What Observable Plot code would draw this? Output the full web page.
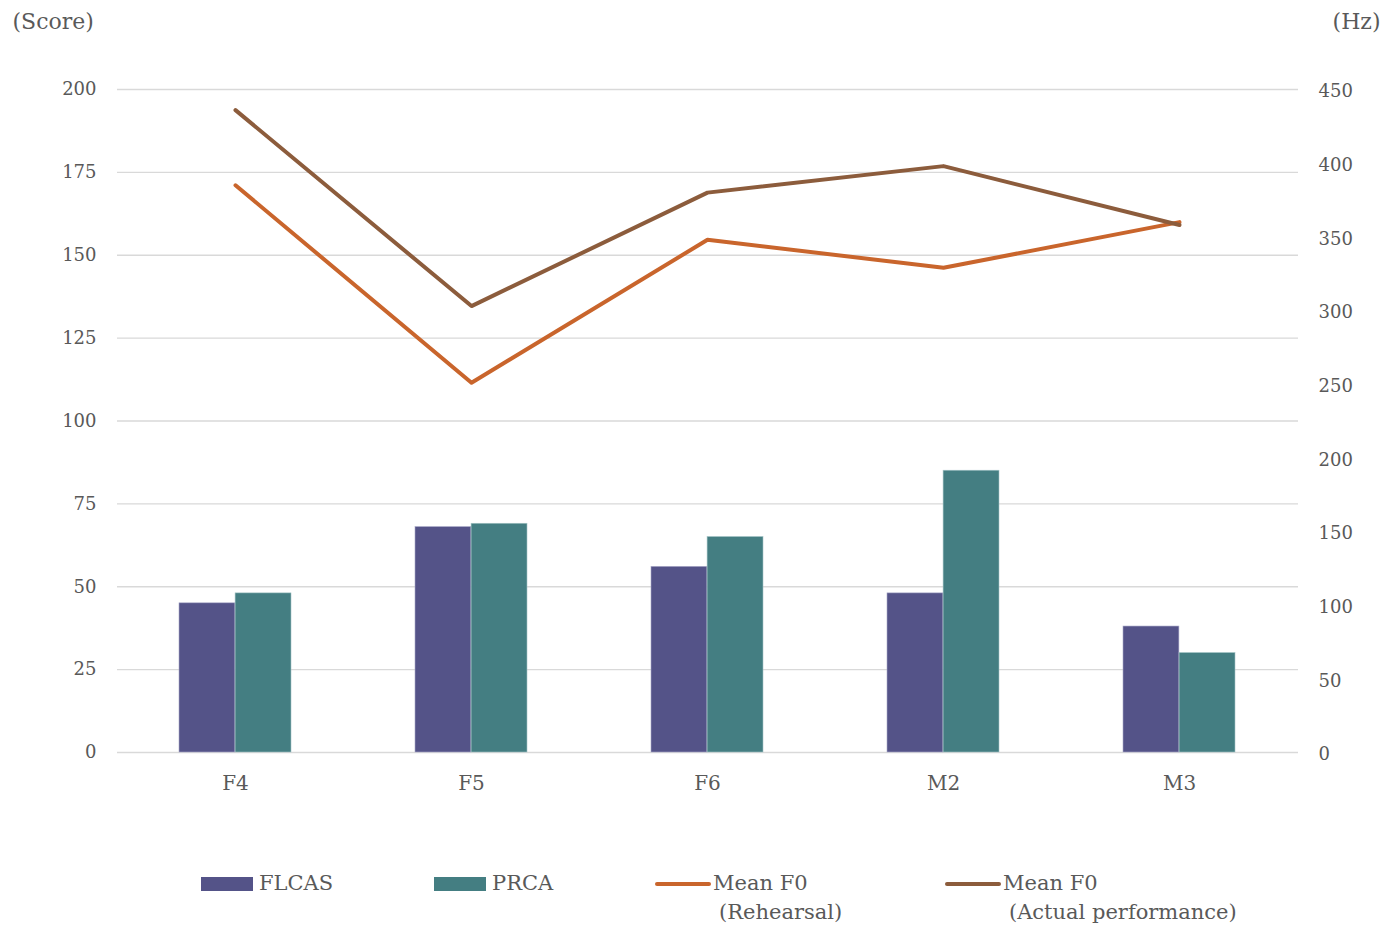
<!DOCTYPE html>
<html>
<head>
<meta charset="utf-8">
<script src="https://cdn.jsdelivr.net/npm/d3@7"></script>
<script src="https://cdn.jsdelivr.net/npm/@observablehq/plot@0.6"></script>
<style>
  body { margin: 0; background: #fff; font-family: "DejaVu Serif", serif; }
  #wrap { position: relative; width: 1387px; height: 929px; }
  #legend { position: absolute; left: 0; top: 869px; width: 1387px; height: 60px; color: #595959; font-size: 21px; }
  .item { position: absolute; top: 0; display: flex; align-items: flex-start; }
  .sw { display: inline-block; margin-right: 6px; }
  .lbl { line-height: 29px; }
</style>
</head>
<body>
<div id="wrap">
  <div id="chart"></div>
  <div id="legend"></div>
</div>
<script>
const categories = ["F4", "F5", "F6", "M2", "M3"];
const flcas = [45, 68, 56, 48, 38];
const prca = [48, 69, 65, 85, 30];
const f0Rehearsal = [385, 251, 348, 329, 360];
const f0Actual = [436, 303, 380, 398, 358];
const scoreTicks = [0, 25, 50, 75, 100, 125, 150, 175, 200];
const hzTicks = [0, 50, 100, 150, 200, 250, 300, 350, 400, 450];
const seriesNames = ["FLCAS", "PRCA", "Mean F0\n(Rehearsal)", "Mean F0\n(Actual performance)"];
const colors = ["#545388", "#447e82", "#c9652c", "#8c5c3c"];

const scoreMax = 200, hzMax = 450;
const hzToScore = h => h * scoreMax / hzMax;

const barData = categories.map((c, i) => ({cat: c, flcas: flcas[i], prca: prca[i]}));
const lineReh = categories.map((c, i) => ({cat: c, hz: f0Rehearsal[i]}));
const lineAct = categories.map((c, i) => ({cat: c, hz: f0Actual[i]}));

const W = 1387, H = 840, ML = 117, MR = 89, MT = 89, MB = 88;
const padInner = 0.525, padOuter = 0.2625;
const step = (W - ML - MR) / (categories.length - padInner + 2 * padOuter);
const bw = step * (1 - padInner);

const chart = Plot.plot({
  width: W, height: H,
  marginLeft: ML, marginRight: MR, marginTop: MT, marginBottom: MB,
  style: {fontFamily: "DejaVu Serif, serif", fontSize: "18px", color: "#595959", background: "white"},
  x: {domain: categories, paddingInner: padInner, paddingOuter: padOuter, label: null},
  y: {domain: [0, scoreMax], label: null},
  marks: [
    Plot.gridY(scoreTicks, {stroke: "#d9d9d9", strokeOpacity: 1, strokeWidth: 1.3}),
    Plot.barY(barData, {x: "cat", y: "flcas", fill: colors[0], insetRight: bw / 2, stroke: "#a9a9c8", strokeWidth: 0.6}),
    Plot.barY(barData, {x: "cat", y: "prca", fill: colors[1], insetLeft: bw / 2, stroke: "#a3c3c5", strokeWidth: 0.6}),
    Plot.line(lineReh, {x: "cat", y: d => hzToScore(d.hz), stroke: colors[2], strokeWidth: 4}),
    Plot.line(lineAct, {x: "cat", y: d => hzToScore(d.hz), stroke: colors[3], strokeWidth: 4}),
    Plot.axisY(scoreTicks, {anchor: "left", tickSize: 0, tickPadding: 21, label: null, fontSize: 18}),
    Plot.axisY(hzTicks.map(hzToScore), {anchor: "right", tickSize: 0, tickPadding: 20, label: null, fontSize: 18, dy: 2,
      tickFormat: d => String(Math.round(d * hzMax / scoreMax)), textAnchor: "start"}),
    Plot.axisX({tickSize: 0, tickPadding: 23, label: null, fontSize: 20}),
    Plot.text(["(Score)"], {frameAnchor: "top-left", dx: -105, dy: -76, textAnchor: "start", fontSize: 22, fill: "#595959"}),
    Plot.text(["(Hz)"], {frameAnchor: "top-right", dx: 82, dy: -76, textAnchor: "end", fontSize: 22, fill: "#595959"})
  ]
});
document.getElementById("chart").appendChild(chart);

const legendLefts = [201, 434, 655, 945];
const legend = document.getElementById("legend");
seriesNames.forEach((name, i) => {
  const item = document.createElement("div");
  item.className = "item";
  item.style.left = legendLefts[i] + "px";
  const sw = document.createElement("span");
  sw.className = "sw";
  if (i < 2) {
    sw.style.width = "52px"; sw.style.height = "14px"; sw.style.background = colors[i];
    sw.style.marginTop = "8px";
  } else {
    sw.style.width = "56px"; sw.style.height = "4px"; sw.style.background = colors[i];
    sw.style.marginTop = "13px"; sw.style.borderRadius = "2px"; sw.style.marginRight = "2px";
  }
  const lbl = document.createElement("div");
  lbl.className = "lbl";
  const lines = name.split("\n");
  lines.forEach((t, j) => {
    const d = document.createElement("div");
    d.textContent = t;
    if (j > 0) d.style.paddingLeft = "6px";
    lbl.appendChild(d);
  });
  item.appendChild(sw);
  item.appendChild(lbl);
  legend.appendChild(item);
});
</script>
</body>
</html>
